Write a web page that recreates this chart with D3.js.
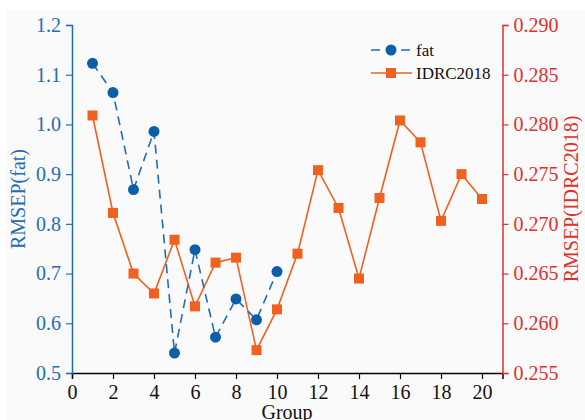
<!DOCTYPE html>
<meta charset="utf-8">
<script src="https://d3js.org/d3.v7.min.js"></script>
<style>
  body { margin: 0; background: #fff; }
</style>
<svg width="585" height="420"></svg>
<script>
// data
const fatGroups = [1, 2, 3, 4, 5, 6, 7, 8, 9, 10];
const fatValues = [1.123, 1.064, 0.869, 0.986, 0.540, 0.748, 0.572, 0.649, 0.607, 0.704];
const idrcGroups = d3.range(1, 21);
const idrcValues = [0.2809, 0.2711, 0.2650, 0.2630, 0.2684, 0.2617, 0.2661, 0.2666, 0.2573, 0.2614,
                    0.2670, 0.2754, 0.2716, 0.2645, 0.2726, 0.2804, 0.2782, 0.2703, 0.2750, 0.2725];
const xTicks = [0, 2, 4, 6, 8, 10, 12, 14, 16, 18, 20];
const leftTicks = [0.5, 0.6, 0.7, 0.8, 0.9, 1.0, 1.1, 1.2];
const rightTicks = [0.255, 0.260, 0.265, 0.270, 0.275, 0.280, 0.285, 0.290];

const blue = "#1f6db5", blueMark = "#0b5fa8", orange = "#f0601e", red = "#e0302c";
const serif = "'Liberation Serif', 'Times New Roman', 'DejaVu Serif', serif";

const svg = d3.select("svg").attr("font-family", serif);
svg.append("rect").attr("x", 6).attr("y", 10).attr("width", 579).attr("height", 410).attr("fill", "#fafafa");

const x = d3.scaleLinear().domain([0, 21]).range([72, 502.5]);
const yL = d3.scaleLinear().domain([0.5, 1.2]).range([373, 25]);
const yR = d3.scaleLinear().domain([0.255, 0.290]).range([373, 25]);

// axes
const gx = svg.append("g").attr("transform", "translate(0,373)")
  .call(d3.axisBottom(x).tickValues(xTicks).tickSize(6).tickPadding(6).tickFormat(d3.format("d")))
  .attr("font-family", serif);
gx.select(".domain").attr("stroke", "#000").attr("stroke-width", 1.5);
gx.selectAll("line").attr("stroke", "#000").attr("stroke-width", 1.2);
gx.selectAll("text").attr("font-size", 20).attr("fill", "#111");

const gl = svg.append("g").attr("transform", "translate(72,0)")
  .call(d3.axisLeft(yL).tickValues(leftTicks).tickSize(6).tickPadding(5).tickFormat(d3.format(".1f")))
  .attr("font-family", serif);
gl.select(".domain").attr("stroke", blue).attr("stroke-width", 1.5);
gl.selectAll("line").attr("stroke", blue).attr("stroke-width", 1.2);
gl.selectAll("text").attr("font-size", 20).attr("fill", blue);

const gr = svg.append("g").attr("transform", "translate(502.5,0)")
  .call(d3.axisRight(yR).tickValues(rightTicks).tickSize(6).tickPadding(5).tickFormat(d3.format(".3f")))
  .attr("font-family", serif);
gr.select(".domain").attr("stroke", red).attr("stroke-width", 1.5);
gr.selectAll("line").attr("stroke", red).attr("stroke-width", 1.2);
gr.selectAll("text").attr("font-size", 20).attr("fill", red);

// axis titles
svg.append("text").attr("transform", "translate(25,199) rotate(-90)")
  .attr("text-anchor", "middle").attr("font-size", 20).attr("fill", blue).text("RMSEP(fat)");
svg.append("text").attr("transform", "translate(578,199) rotate(-90)")
  .attr("text-anchor", "middle").attr("font-size", 20).attr("fill", red).text("RMSEP(IDRC2018)");
svg.append("text").attr("x", 287).attr("y", 419)
  .attr("text-anchor", "middle").attr("font-size", 20).attr("fill", "#111").text("Group");

// IDRC2018 series
svg.append("path")
  .datum(idrcGroups.map((g, i) => [g, idrcValues[i]]))
  .attr("fill", "none").attr("stroke", orange).attr("stroke-width", 1.6)
  .attr("d", d3.line().x(d => x(d[0])).y(d => yR(d[1])));
svg.selectAll(".sq").data(idrcGroups.map((g, i) => [g, idrcValues[i]])).join("rect")
  .attr("x", d => x(d[0]) - 5).attr("y", d => yR(d[1]) - 5)
  .attr("width", 10).attr("height", 10).attr("fill", orange);

// fat series
svg.append("path")
  .datum(fatGroups.map((g, i) => [g, fatValues[i]]))
  .attr("fill", "none").attr("stroke", blue).attr("stroke-width", 1.6)
  .attr("stroke-dasharray", "9,6")
  .attr("d", d3.line().x(d => x(d[0])).y(d => yL(d[1])));
svg.selectAll(".dot").data(fatGroups.map((g, i) => [g, fatValues[i]])).join("circle")
  .attr("cx", d => x(d[0])).attr("cy", d => yL(d[1])).attr("r", 5.5).attr("fill", blueMark);

// legend
const lg = svg.append("g");
lg.append("line").attr("x1", 371).attr("x2", 412).attr("y1", 50).attr("y2", 50)
  .attr("stroke", blue).attr("stroke-width", 1.6).attr("stroke-dasharray", "9,6");
lg.append("circle").attr("cx", 391).attr("cy", 50).attr("r", 5.5).attr("fill", blueMark);
lg.append("text").attr("x", 416).attr("y", 56).attr("font-size", 17).attr("fill", "#111").text("fat");
lg.append("line").attr("x1", 371).attr("x2", 412).attr("y1", 73).attr("y2", 73)
  .attr("stroke", orange).attr("stroke-width", 1.6);
lg.append("rect").attr("x", 386).attr("y", 68).attr("width", 10).attr("height", 10).attr("fill", orange);
lg.append("text").attr("x", 416).attr("y", 79).attr("font-size", 17).attr("fill", "#111").text("IDRC2018");
</script>
